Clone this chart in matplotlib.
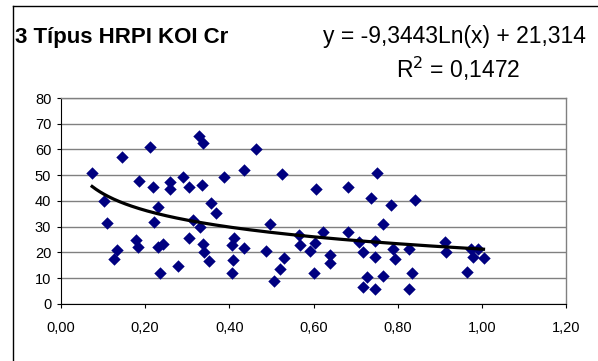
import numpy as np
import matplotlib.pyplot as plt
from matplotlib.lines import Line2D
from matplotlib.ticker import FuncFormatter

# measured samples: relative value (x) vs Cr (y)
x_vals = [
    0.074, 0.102, 0.109, 0.145, 0.132, 0.127, 0.212, 0.186, 0.179, 0.184,
    0.218, 0.230, 0.222, 0.230, 0.242, 0.236, 0.260, 0.258, 0.289, 0.303,
    0.279, 0.303, 0.314, 0.327, 0.337, 0.336, 0.331, 0.337, 0.340, 0.352,
    0.356, 0.369, 0.388, 0.436, 0.412, 0.406, 0.409, 0.406, 0.436, 0.464,
    0.525, 0.607, 0.682, 0.750, 0.736, 0.783, 0.841, 0.496, 0.488, 0.531,
    0.521, 0.507, 0.565, 0.569, 0.591, 0.603, 0.602, 0.622, 0.639, 0.640,
    0.682, 0.708, 0.717, 0.745, 0.764, 0.745, 0.789, 0.793, 0.764, 0.726,
    0.717, 0.745, 0.827, 0.835, 0.827, 0.912, 0.914, 0.975, 0.980, 0.990,
    1.004, 0.964,
]
y_vals = [
    51.0, 40.0, 31.5, 57.1, 20.9, 17.4, 61.0, 47.8, 24.8, 22.2,
    45.5, 37.7, 31.9, 22.2, 23.3, 12.1, 47.4, 44.5, 49.3, 45.5,
    14.7, 25.5, 32.6, 65.1, 62.5, 46.4, 30.0, 23.3, 20.3, 16.8,
    39.3, 35.4, 49.3, 51.9, 25.5, 22.9, 17.1, 12.1, 21.6, 60.1,
    50.3, 44.8, 45.5, 51.0, 41.0, 38.6, 40.3, 30.9, 20.5, 17.9,
    13.4, 9.0, 26.7, 22.9, 20.7, 23.8, 12.1, 27.8, 19.0, 15.8,
    27.8, 24.1, 20.3, 24.4, 30.9, 18.3, 21.3, 17.4, 10.9, 10.6,
    6.7, 5.8, 21.3, 11.9, 5.8, 23.9, 20.3, 21.2, 18.3, 21.2,
    17.7, 12.5,
]

# logarithmic trend: y = a*ln(x) + b
trend_a = -9.3443
trend_b = 21.314
r_squared = 0.1472

x_ticks = [0.0, 0.2, 0.4, 0.6, 0.8, 1.0, 1.2]
y_ticks = [0, 10, 20, 30, 40, 50, 60, 70, 80]

plt.rcParams["font.family"] = ["Liberation Sans", "DejaVu Sans"]

fig = plt.figure(figsize=(5.98, 3.61), dpi=100)
ax = fig.add_axes([0.102, 0.158, 0.8445, 0.5705])

# chart area border (left and top edges fall inside the image)
bx, by = 12.5 / 598, 1 - 5.5 / 361
fig.add_artist(Line2D([bx, bx], [0, by], transform=fig.transFigure,
                      color="black", linewidth=1.0))
fig.add_artist(Line2D([bx, 1], [by, by], transform=fig.transFigure,
                      color="black", linewidth=1.0))

ax.set_xlim(0, 1.2)
ax.set_ylim(0, 80)
ax.set_xticks(x_ticks)
ax.set_yticks(y_ticks)
ax.xaxis.set_major_formatter(FuncFormatter(lambda v, _: f"{v:.2f}".replace(".", ",")))
ax.tick_params(axis="both", labelsize=10.5, direction="out", length=3, width=0.8,
               colors="black", pad=4)
ax.tick_params(axis="x", pad=9)

ax.grid(axis="y", color="#808080", linewidth=1.0, zorder=0)
for side in ["top", "right"]:
    ax.spines[side].set_color("#808080")
    ax.spines[side].set_linewidth(1.0)
for side in ["left", "bottom"]:
    ax.spines[side].set_color("black")
    ax.spines[side].set_linewidth(0.8)

ax.scatter(x_vals, y_vals, marker="D", s=40, color="#000080", linewidths=0, zorder=3)

trend_x = np.linspace(min(x_vals), max(x_vals), 200)
trend_y = trend_a * np.log(trend_x) + trend_b
ax.plot(trend_x, trend_y, color="black", linewidth=2.3, zorder=4)

fig.text(15 / 598, 1 - 37 / 361, "3 Típus HRPI KOI Cr", fontsize=16,
         fontweight="bold", va="center", ha="left")
fig.text(454 / 598, 1 - 37 / 361,
         f"y = {trend_a:.4f}Ln(x) + {trend_b:.3f}".replace(".", ","),
         fontsize=16.5, va="center", ha="center")
fig.text(458 / 598, 1 - 69 / 361,
         f"R$^2$ = {r_squared:.4f}".replace(".", ","),
         fontsize=16.5, va="center", ha="center")

fig.savefig("out.png", dpi=100)
